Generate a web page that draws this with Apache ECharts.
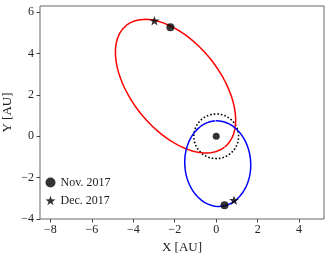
<!DOCTYPE html>
<html><head><meta charset="utf-8">
<script src="https://cdn.jsdelivr.net/npm/echarts@6/dist/echarts.min.js"></script>
<style>html,body{margin:0;padding:0;background:#fff}#c{width:332px;height:255px}</style>
</head><body><div id="c"></div>
<script>
// Tick labels
const xTicks = [-8, -6, -4, -2, 0, 2, 4];
const yTicks = [-4, -2, 0, 2, 4, 6];
// Orbits (focus at the Sun): semi-major axis [AU], eccentricity, perihelion direction [deg]
const orbitNames = ['Earth', 'Orbit A', 'Orbit B'];
const semiMajor = [1.08, 3.78, 2.07];
const eccentricity = [0.0, 0.825, 0.64];
const periDirection = [0, -51, 93.2];
// Markers
const sunPos = [[0, 0]];
const novPoints = [[-2.21, 5.27], [0.40, -3.33]];
const decPoints = [[-2.98, 5.59], [0.86, -3.09]];

function orbitCurve(i) {
  const a = semiMajor[i], e = eccentricity[i], w = periDirection[i] * Math.PI / 180;
  const pts = [];
  for (let k = 0; k <= 360; k += 2) {
    const nu = k * Math.PI / 180;
    const r = a * (1 - e * e) / (1 + e * Math.cos(nu));
    pts.push([r * Math.cos(nu + w), r * Math.sin(nu + w)]);
  }
  return pts;
}
const fmt = v => (v < 0 ? '\u2212' + (-v) : '' + v);
const star = 'path://M0,-10L2.35,-3.24L9.51,-3.09L3.8,1.24L5.88,8.09L0,4L-5.88,8.09L-3.8,1.24L-9.51,-3.09L-2.35,-3.24Z';
const FONT = 'Liberation Serif';

const chart = echarts.init(document.getElementById('c'), null, {renderer: 'canvas'});
chart.setOption({
  animation: false,
  grid: {left: 40, right: 8, top: 6, bottom: 36, show: true, borderColor: '#666', borderWidth: 1,
         containLabel: false, outerBoundsMode: 'none'},
  xAxis: {
    type: 'value', min: -8.5, max: 5.2,
    name: 'X [AU]', nameLocation: 'middle', nameGap: 22.5, nameMoveOverlap: false,
    nameTextStyle: {fontFamily: FONT, fontSize: 13, color: '#222'},
    axisLine: {show: false, onZero: false},
    splitLine: {show: false},
    axisTick: {show: true, length: 3.5, lineStyle: {color: '#444'}, customValues: xTicks},
    axisLabel: {fontFamily: FONT, fontSize: 12, color: '#222', margin: 5, formatter: fmt, customValues: xTicks}
  },
  yAxis: {
    type: 'value', min: -4, max: 6.3,
    name: 'Y [AU]', nameLocation: 'middle', nameGap: 26, nameMoveOverlap: false,
    nameTextStyle: {fontFamily: FONT, fontSize: 13, color: '#222'},
    axisLine: {show: false, onZero: false},
    splitLine: {show: false},
    axisTick: {show: true, length: 3.5, lineStyle: {color: '#444'}, customValues: yTicks},
    axisLabel: {fontFamily: FONT, fontSize: 12, color: '#222', margin: 6, formatter: fmt, customValues: yTicks}
  },
  legend: {
    left: 45.5, top: 176.5, padding: 0, orient: 'vertical', itemGap: 6, itemWidth: 10, itemHeight: 10,
    textStyle: {fontFamily: FONT, fontSize: 12, color: '#222'},
    data: ['Nov. 2017', 'Dec. 2017']
  },
  series: [
    {name: orbitNames[0], type: 'line', data: orbitCurve(0), showSymbol: false, symbol: 'none',
     lineStyle: {color: '#000', width: 1.6, type: [1.6, 2.0]}, z: 2},
    {name: orbitNames[1], type: 'line', data: orbitCurve(1), showSymbol: false, symbol: 'none',
     lineStyle: {color: '#ff0000', width: 1.5}, z: 3},
    {name: orbitNames[2], type: 'line', data: orbitCurve(2), showSymbol: false, symbol: 'none',
     lineStyle: {color: '#0000ff', width: 1.5}, z: 3},
    {name: 'Sun', type: 'scatter', data: sunPos, symbol: 'circle', symbolSize: 7,
     itemStyle: {color: '#000'}, z: 5},
    {name: 'Nov. 2017', type: 'scatter', data: novPoints, symbol: 'circle', symbolSize: 8,
     itemStyle: {color: '#000'}, z: 5},
    {name: 'Dec. 2017', type: 'scatter', data: decPoints, symbol: star, symbolKeepAspect: true, symbolSize: 10,
     itemStyle: {color: '#000'}, z: 5}
  ]
});
</script></body></html>
